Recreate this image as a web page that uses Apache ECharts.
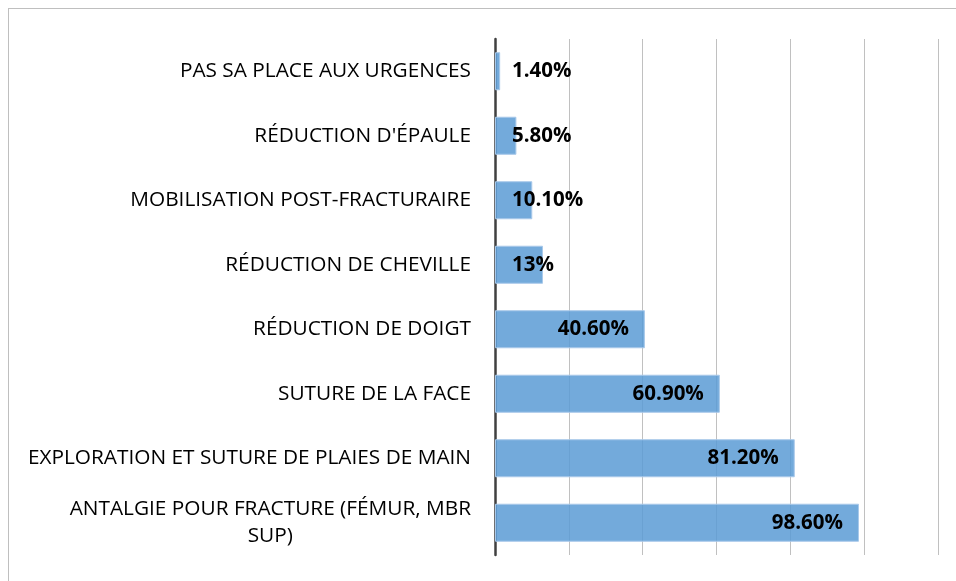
<!DOCTYPE html>
<html>
<head>
<meta charset="utf-8">
<script src="https://cdn.jsdelivr.net/npm/echarts@6/dist/echarts.min.js"></script>
<style>
  html, body { margin: 0; padding: 0; background: #fff; }
  .frame {
    position: absolute;
    left: 8px;
    top: 8px;
    width: 960px;
    height: 600px;
    border: 1px solid #bfbfbf;
    box-sizing: border-box;
  }
  #chart { position: absolute; left: 0; top: 0; width: 956px; height: 581px; }
</style>
</head>
<body>
<div class="frame"></div>
<div id="chart"></div>
<script>
  // categories, top to bottom
  var categories = [
    "PAS SA PLACE AUX URGENCES",
    "RÉDUCTION D'ÉPAULE",
    "MOBILISATION POST-FRACTURAIRE",
    "RÉDUCTION DE CHEVILLE",
    "RÉDUCTION DE DOIGT",
    "SUTURE DE LA FACE",
    "EXPLORATION ET SUTURE DE PLAIES DE MAIN",
    "ANTALGIE POUR FRACTURE (FÉMUR, MBR\nSUP)"
  ];
  var values = [1.4, 5.8, 10.1, 13, 40.6, 60.9, 81.2, 98.6];
  var valueLabels = ["1.40%", "5.80%", "10.10%", "13%", "40.60%", "60.90%", "81.20%", "98.60%"];
  var xTicks = [0, 20, 40, 60, 80, 100, 120];

  var font = "'Open Sans', sans-serif";
  var chart = echarts.init(document.getElementById("chart"));

  var seriesData = values.map(function (v, i) {
    var item = { value: v };
    // short bars: label sits just right of the axis
    if (v < 20) {
      item.label = { position: "insideLeft", distance: 17 };
    }
    return item;
  });

  chart.setOption({
    animation: false,
    grid: { left: 495, right: 18, top: 39, bottom: 26, containLabel: false },
    xAxis: {
      type: "value",
      min: xTicks[0],
      max: xTicks[xTicks.length - 1],
      interval: 20,
      axisLine: { show: false },
      axisTick: { show: false },
      axisLabel: { show: false },
      splitLine: { show: true, lineStyle: { color: "#c0c0c0", width: 1 } }
    },
    yAxis: {
      type: "category",
      inverse: true,
      data: categories,
      axisTick: { show: false },
      axisLine: { show: true, lineStyle: { color: "#404040", width: 2.5 } },
      axisLabel: {
        margin: 24,
        color: "#000",
        fontFamily: font,
        fontSize: 20.8,
        lineHeight: 27,
        formatter: function (val) {
          if (val.indexOf("\n") < 0) return val;
          return val.split("\n").map(function (l) { return "{c|" + l + "}"; }).join("\n");
        },
        rich: {
          c: {
            align: "center",
            color: "#000",
            fontFamily: font,
            fontSize: 20.8,
            lineHeight: 27
          }
        }
      }
    },
    series: [{
      type: "bar",
      data: seriesData,
      barWidth: "59%",
      z: 1,
      itemStyle: {
        color: "rgba(91,155,213,0.85)",
        borderColor: "#a9c9ea",
        borderWidth: 1
      },
      label: {
        show: true,
        position: "insideRight",
        distance: 16,
        color: "#000",
        fontWeight: "bold",
        fontFamily: font,
        fontSize: 20.5,
        formatter: function (p) { return valueLabels[p.dataIndex]; }
      }
    }]
  });
</script>
</body>
</html>
